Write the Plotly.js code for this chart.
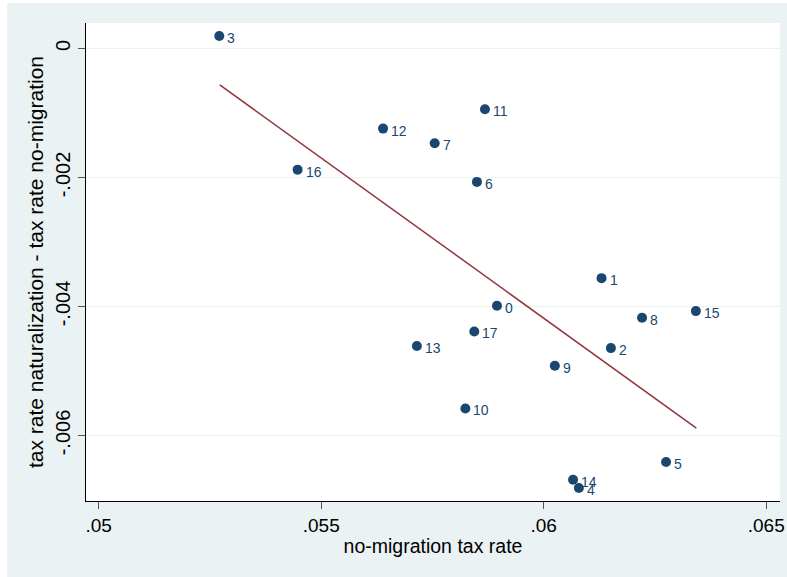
<!DOCTYPE html>
<html>
<head>
<meta charset="utf-8">
<script src="https://cdn.plot.ly/plotly-3.0.1.min.js"></script>
<style>html,body{margin:0;padding:0;background:#fff;}#chart{width:787px;height:577px;}</style>
</head>
<body>
<div id="chart"></div>
<script>
// Data
const pointLabels = ['0','1','2','3','4','5','6','7','8','9','10','11','12','13','14','15','16','17'];
const noMigrationRate = [0.05895,0.06130,0.06151,0.05271,0.06079,0.06275,0.05850,0.05755,0.06221,0.06025,0.05824,0.05868,0.05639,0.05715,0.06066,0.06342,0.05447,0.05844];
const rateDifference = [-0.003989,-0.003560,-0.004645,0.000194,-0.006813,-0.006411,-0.002068,-0.001469,-0.004175,-0.004919,-0.005580,-0.000942,-0.001242,-0.004613,-0.006685,-0.004071,-0.001878,-0.004387];
const fitX = [0.05272, 0.06343];
const fitY = [-0.000565, -0.005884];
const xTickVals = [0.05, 0.055, 0.06, 0.065];
const xTickText = ['.05', '.055', '.06', '.065'];
const yTickVals = [0, -0.002, -0.004, -0.006];
const yTickText = ['0', '-.002', '-.004', '-.006'];

const navy = '#1A476F';
const bg = '#EAF2F3';
const font = 'Liberation Sans, Arial, Helvetica, sans-serif';

const traces = [
  {
    x: fitX, y: fitY, mode: 'lines', type: 'scatter',
    line: {color: '#90353B', width: 1.5}, showlegend: false, hoverinfo: 'skip'
  },
  {
    x: noMigrationRate, y: rateDifference,
    mode: 'markers', type: 'scatter',
    marker: {color: navy, size: 10},
    cliponaxis: false, hoverinfo: 'skip', showlegend: false
  }
];

const labelAnnotations = pointLabels.map((t, i) => ({
  x: noMigrationRate[i], y: rateDifference[i], xref: 'x', yref: 'y',
  text: t, showarrow: false, xanchor: 'left', yanchor: 'middle',
  xshift: 6, yshift: -2,
  font: {color: navy, size: 14, family: font}
}));

const layout = {
  width: 787, height: 577,
  margin: {l: 86, r: 7, t: 23, b: 76},
  paper_bgcolor: bg, plot_bgcolor: '#ffffff',
  font: {family: font, color: '#000', size: 18},
  showlegend: false,
  xaxis: {
    range: [0.0497145, 0.06531],
    tickvals: xTickVals, ticktext: xTickText,
    ticks: 'outside', ticklen: 7, tickcolor: '#555', tickwidth: 1,
    showgrid: false, zeroline: false,
    showline: true, linecolor: '#000', linewidth: 1,
    tickfont: {size: 19},
    title: {text: 'no-migration tax rate', font: {size: 19.5}, standoff: 4}
  },
  yaxis: {
    range: [-0.007015, 0.000395],
    tickvals: yTickVals, ticktext: yTickText, tickangle: -90,
    ticks: 'outside', ticklen: 7, tickcolor: '#555', tickwidth: 1,
    showgrid: true, gridcolor: bg, gridwidth: 1.5, zeroline: false,
    showline: true, linecolor: '#000', linewidth: 1,
    tickfont: {size: 20},
    title: {text: 'tax rate naturalization - tax rate no-migration', font: {size: 21}, standoff: 2}
  },
  annotations: labelAnnotations,
  shapes: [
    {type: 'rect', xref: 'paper', yref: 'paper', xsizemode: 'scaled', ysizemode: 'pixel', yanchor: 1, x0: -0.2, x1: 1.2, y0: 20, y1: 23, line: {width: 0}, fillcolor: '#fff', layer: 'above'},
    {type: 'rect', xref: 'paper', yref: 'paper', xsizemode: 'pixel', xanchor: 0, ysizemode: 'scaled', x0: -86, x1: -79, y0: -0.2, y1: 1.1, line: {width: 0}, fillcolor: '#fff', layer: 'above'}
  ]
};

Plotly.newPlot('chart', traces, layout, {staticPlot: true});
</script>
</body>
</html>
